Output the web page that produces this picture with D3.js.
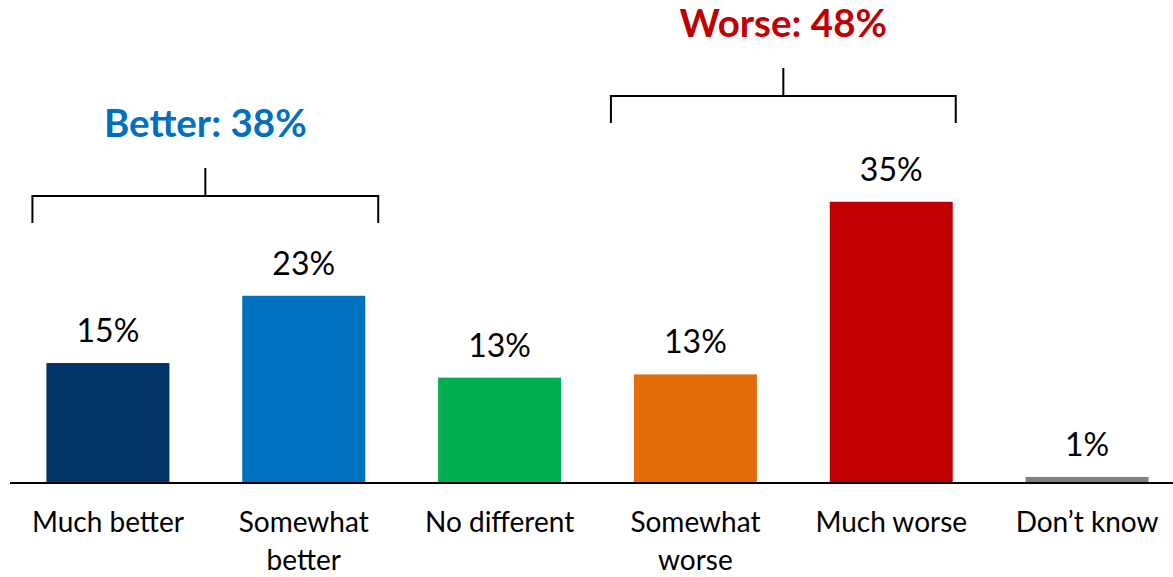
<!DOCTYPE html>
<html>
<head>
<meta charset="utf-8">
<script src="https://cdn.jsdelivr.net/npm/d3@7/dist/d3.min.js"></script>
<style>
  html, body { margin: 0; padding: 0; background: #fff; }
  svg { display: block; }
  text { font-family: Lato, "Open Sans", sans-serif; }
</style>
</head>
<body>
<svg id="chart" width="1173" height="577"></svg>
<script>
const categories = ["Much better", "Somewhat better", "No different", "Somewhat worse", "Much worse", "Don\u2019t know"];
const categoryLines = [["Much better"], ["Somewhat", "better"], ["No different"], ["Somewhat", "worse"], ["Much worse"], ["Don\u2019t know"]];
const values = [14.8, 23.1, 13.0, 13.4, 34.7, 0.75];
const valueLabels = ["15%", "23%", "13%", "13%", "35%", "1%"];
const colors = ["#003366", "#0070C0", "#00B050", "#E46C0A", "#C00000", "#808080"];
const groupLabels = ["Better: 38%", "Worse: 48%"];
const groupFrom = ["Much better", "Somewhat worse"];
const groupTo = ["Somewhat better", "Much worse"];
const groupColors = ["#0070C0", "#C00000"];

const svg = d3.select("#chart");
const x = d3.scaleBand().domain(categories).range([10, 1185]).paddingInner(0.372).paddingOuter(0.186);
const y = d3.scaleLinear().domain([0, 59.6]).range([483, 0]);

// bars
svg.selectAll("rect.bar").data(categories).join("rect")
  .attr("class", "bar")
  .attr("x", d => x(d))
  .attr("width", x.bandwidth())
  .attr("y", (d, i) => y(values[i]))
  .attr("height", (d, i) => y(0) - y(values[i]))
  .attr("fill", (d, i) => colors[i]);

// baseline axis
const axis = svg.append("g").attr("transform", `translate(0,${y(0)})`)
  .call(d3.axisBottom(x).tickSize(0).tickFormat(""));
axis.select(".domain").attr("stroke", "#000").attr("stroke-width", 2).attr("d", "M10,0H1173");

// value labels
svg.selectAll("text.val").data(categories).join("text")
  .attr("class", "val")
  .attr("x", d => x(d) + x.bandwidth() / 2)
  .attr("y", (d, i) => y(values[i]) - 21)
  .attr("text-anchor", "middle")
  .attr("font-size", 32)
  .attr("fill", "#000")
  .text((d, i) => valueLabels[i]);

// category labels
const cat = svg.selectAll("text.cat").data(categories).join("text")
  .attr("class", "cat")
  .attr("x", d => x(d) + x.bandwidth() / 2)
  .attr("y", 532)
  .attr("text-anchor", "middle")
  .attr("font-size", 28)
  .attr("fill", "#000");
cat.each(function(d, i) {
  const t = d3.select(this);
  categoryLines[i].forEach((line, j) => {
    t.append("tspan").attr("x", x(d) + x.bandwidth() / 2).attr("dy", j === 0 ? 0 : 38).text(line);
  });
});

// brackets (layout of annotation)
const bracketLayout = [
  { y: 196, padL: 14, padR: 13 },
  { y: 96, padL: 23, padR: 3 }
];
groupLabels.forEach((label, k) => {
  const L = bracketLayout[k];
  const x0 = x(groupFrom[k]) - L.padL;
  const x1 = x(groupTo[k]) + x.bandwidth() + L.padR;
  const yb = L.y;
  const cx = (x0 + x1) / 2;
  svg.append("path")
    .attr("d", `M${x0},${yb + 27}V${yb}H${x1}V${yb + 27}M${cx},${yb}V${yb - 28}`)
    .attr("fill", "none").attr("stroke", "#000").attr("stroke-width", 2);
  svg.append("text")
    .attr("x", cx).attr("y", yb - 59)
    .attr("text-anchor", "middle")
    .attr("font-size", 38.5).attr("font-weight", "bold")
    .attr("fill", groupColors[k])
    .text(label);
});
</script>
</body>
</html>
